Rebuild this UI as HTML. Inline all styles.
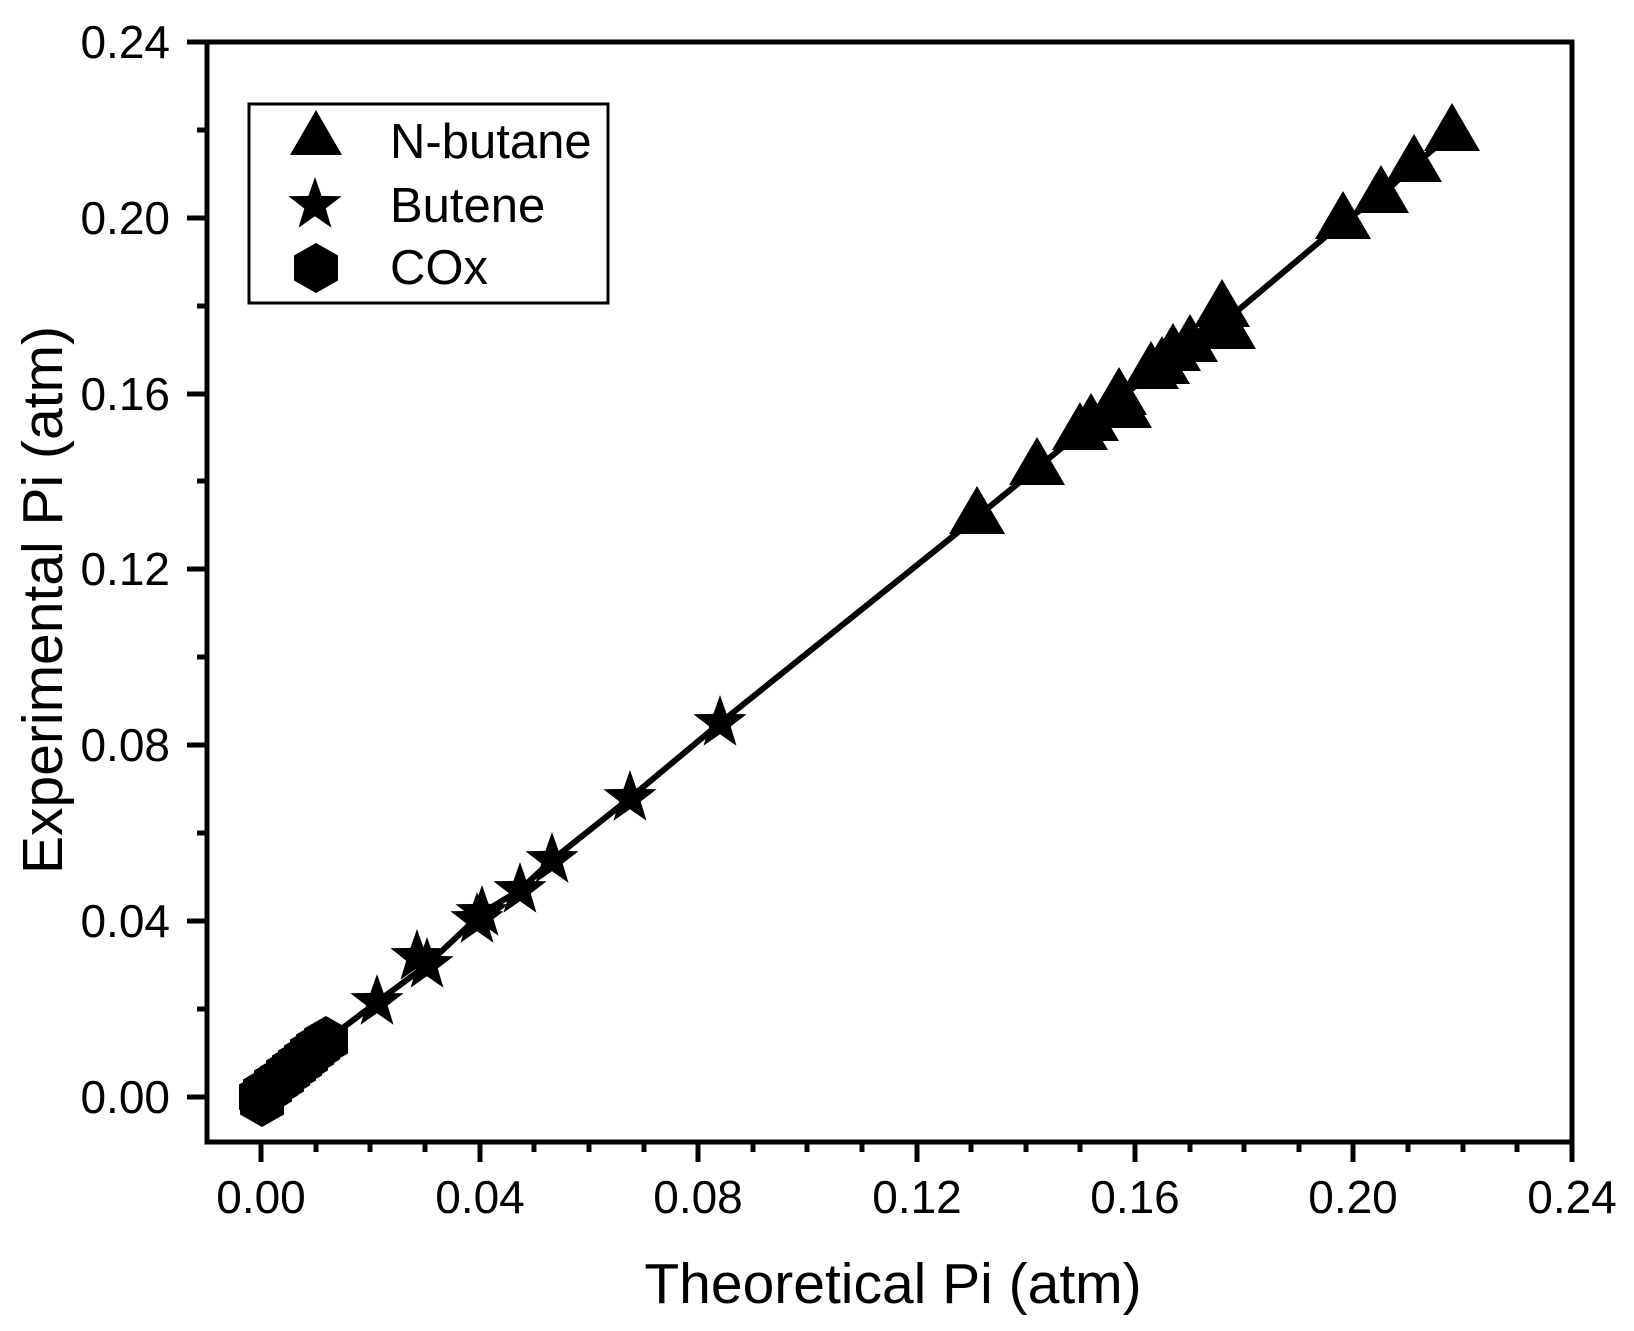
<!DOCTYPE html>
<html><head><meta charset="utf-8"><style>html,body{margin:0;padding:0;background:#fff}svg{display:block}</style></head>
<body>
<svg width="1634" height="1331" viewBox="0 0 1634 1331" xmlns="http://www.w3.org/2000/svg" font-family="Liberation Sans, Arial, sans-serif">
<defs>
<path id="tri" d="M0,-31 L28,17 L-28,17 Z"/>
<path id="star" d="M0,-28 L6.6,-9.1 L26.6,-8.7 L10.7,3.5 L16.5,22.7 L0,11.3 L-16.5,22.7 L-10.7,3.5 L-26.6,-8.7 L-6.6,-9.1 Z"/>
<path id="hex" d="M0,-25 L22,-12.5 L22,12.5 L0,25 L-22,12.5 L-22,-12.5 Z"/>
</defs>
<rect width="1634" height="1331" fill="#fff"/>
<polyline fill="none" stroke="#000" stroke-width="6" points="261,1097 327,1040 377,1002 427,965 482,913 520,890 552,860 630,798 720,723 977,517 1037,468 1080,433 1119,398 1162,367 1217,328 1343,222 1381,196 1414,165 1452,134"/>
<g fill="#000">
<use href="#hex" x="261" y="1097"/><use href="#hex" x="265" y="1092"/><use href="#hex" x="270" y="1089"/><use href="#hex" x="276" y="1083"/><use href="#hex" x="282" y="1079"/><use href="#hex" x="288" y="1073"/><use href="#hex" x="294" y="1068"/><use href="#hex" x="300" y="1063"/><use href="#hex" x="306" y="1058"/><use href="#hex" x="312" y="1052"/><use href="#hex" x="318" y="1047"/><use href="#hex" x="326" y="1041"/><use href="#hex" x="262" y="1102"/>
<use href="#star" x="377" y="1002"/><use href="#star" x="417" y="957"/><use href="#star" x="427" y="965"/><use href="#star" x="477" y="920"/><use href="#star" x="482" y="913"/><use href="#star" x="520" y="890"/><use href="#star" x="552" y="860"/><use href="#star" x="630" y="798"/><use href="#star" x="720" y="723"/>
<use href="#tri" x="977" y="517"/><use href="#tri" x="1037" y="468"/><use href="#tri" x="1080" y="433"/><use href="#tri" x="1091" y="424"/><use href="#tri" x="1119" y="398"/><use href="#tri" x="1124" y="411"/><use href="#tri" x="1151" y="372"/><use href="#tri" x="1162" y="367"/><use href="#tri" x="1173" y="354"/><use href="#tri" x="1190" y="345"/><use href="#tri" x="1217" y="328"/><use href="#tri" x="1222" y="310"/><use href="#tri" x="1228" y="332"/><use href="#tri" x="1343" y="222"/><use href="#tri" x="1381" y="196"/><use href="#tri" x="1414" y="165"/><use href="#tri" x="1452" y="134"/>
</g>
<rect x="207" y="42" width="1365" height="1100" fill="none" stroke="#000" stroke-width="5"/>
<g stroke="#000" stroke-width="5">
<line x1="261" y1="1142" x2="261" y2="1162"/><line x1="316" y1="1142" x2="316" y2="1152"/>
<line x1="370" y1="1142" x2="370" y2="1152"/><line x1="425" y1="1142" x2="425" y2="1152"/>
<line x1="480" y1="1142" x2="480" y2="1162"/><line x1="534" y1="1142" x2="534" y2="1152"/>
<line x1="589" y1="1142" x2="589" y2="1152"/><line x1="644" y1="1142" x2="644" y2="1152"/>
<line x1="698" y1="1142" x2="698" y2="1162"/><line x1="753" y1="1142" x2="753" y2="1152"/>
<line x1="807" y1="1142" x2="807" y2="1152"/><line x1="862" y1="1142" x2="862" y2="1152"/>
<line x1="917" y1="1142" x2="917" y2="1162"/><line x1="971" y1="1142" x2="971" y2="1152"/>
<line x1="1026" y1="1142" x2="1026" y2="1152"/><line x1="1080" y1="1142" x2="1080" y2="1152"/>
<line x1="1135" y1="1142" x2="1135" y2="1162"/><line x1="1190" y1="1142" x2="1190" y2="1152"/>
<line x1="1244" y1="1142" x2="1244" y2="1152"/><line x1="1299" y1="1142" x2="1299" y2="1152"/>
<line x1="1353" y1="1142" x2="1353" y2="1162"/><line x1="1408" y1="1142" x2="1408" y2="1152"/>
<line x1="1463" y1="1142" x2="1463" y2="1152"/><line x1="1517" y1="1142" x2="1517" y2="1152"/>
<line x1="1572" y1="1142" x2="1572" y2="1162"/>
</g>
<g stroke="#000" stroke-width="5">
<line x1="187" y1="1097" x2="207" y2="1097"/><line x1="197" y1="1009" x2="207" y2="1009"/>
<line x1="187" y1="921" x2="207" y2="921"/><line x1="197" y1="833" x2="207" y2="833"/>
<line x1="187" y1="745" x2="207" y2="745"/><line x1="197" y1="657" x2="207" y2="657"/>
<line x1="187" y1="569" x2="207" y2="569"/><line x1="197" y1="481" x2="207" y2="481"/>
<line x1="187" y1="394" x2="207" y2="394"/><line x1="197" y1="306" x2="207" y2="306"/>
<line x1="187" y1="218" x2="207" y2="218"/><line x1="197" y1="130" x2="207" y2="130"/>
<line x1="187" y1="42" x2="207" y2="42"/>
</g>
<g font-size="46" text-anchor="middle" fill="#000">
<text x="261" y="1213">0.00</text><text x="480" y="1213">0.04</text><text x="698" y="1213">0.08</text><text x="917" y="1213">0.12</text><text x="1135" y="1213">0.16</text><text x="1353" y="1213">0.20</text><text x="1572" y="1213">0.24</text>
</g>
<g font-size="46" text-anchor="end" fill="#000">
<text x="170" y="1113">0.00</text><text x="170" y="937">0.04</text><text x="170" y="761">0.08</text><text x="170" y="585">0.12</text><text x="170" y="410">0.16</text><text x="170" y="234">0.20</text><text x="170" y="58">0.24</text>
</g>
<text x="893" y="1303" font-size="57" text-anchor="middle">Theoretical Pi (atm)</text>
<text transform="translate(62,600) rotate(-90)" font-size="57" text-anchor="middle">Experimental Pi (atm)</text>
<rect x="249" y="104" width="359" height="199" fill="#fff" stroke="#000" stroke-width="3"/>
<g fill="#000">
<path d="M316,110 L342,155 L290,155 Z"/>
<use href="#star" x="315" y="205"/>
<use href="#hex" x="316" y="268"/>
</g>
<g font-size="49" fill="#000">
<text x="390" y="158">N-butane</text>
<text x="390" y="222">Butene</text>
<text x="390" y="284">COx</text>
</g>
</svg>
</body></html>
